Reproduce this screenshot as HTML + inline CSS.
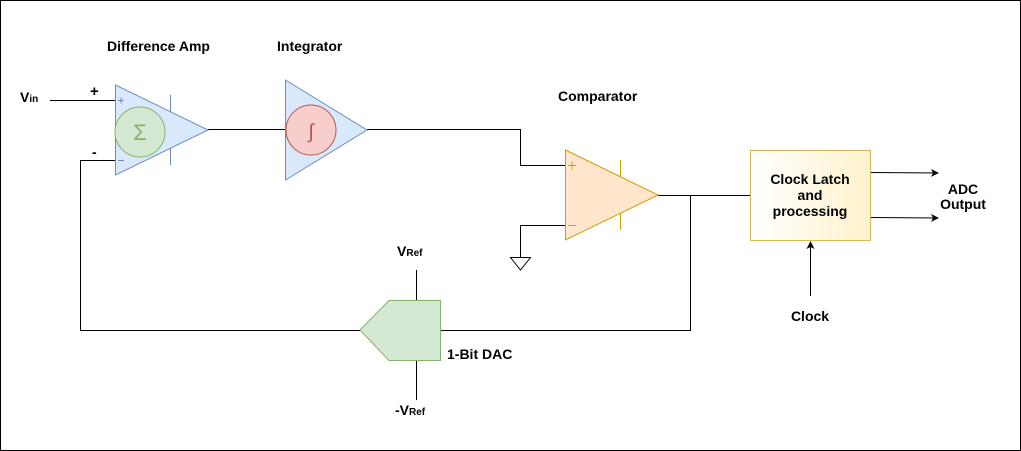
<!DOCTYPE html>
<html><head><meta charset="utf-8"><style>
html,body{margin:0;padding:0;background:#fff}
svg{display:block}
text{font-family:"Liberation Sans",sans-serif;font-weight:bold;font-size:14px;fill:#000}
</style></head><body>
<svg width="1021" height="451" viewBox="0 0 1021 451" xmlns="http://www.w3.org/2000/svg">
<defs>
<linearGradient id="g" x1="0" x2="1" y1="0" y2="0"><stop offset="0" stop-color="#ffffff"/><stop offset="1" stop-color="#fff2cc"/></linearGradient>
<marker id="ar" markerWidth="8" markerHeight="8" refX="7" refY="4" orient="auto" markerUnits="userSpaceOnUse"><path d="M0,0 L8,4 L0,8 L2,4 Z" fill="#000"/></marker>
</defs>
<rect x="0.5" y="0.5" width="1020" height="450" fill="#fff" stroke="#000"/>
<g fill="none" stroke="#000" stroke-width="1">
<path d="M50,100.5 H115"/>
<path d="M115,160.5 H80.5 V330.5 H360"/>
<path d="M441,330.5 H690.5 V195.5"/>
<path d="M208,129.5 H285"/>
<path d="M367,129.5 H520.5 V165.5 H565"/>
<path d="M565,225.5 H520.5 V257"/>
<path d="M658,195.5 H750"/>
<path d="M416.5,270 V300"/>
<path d="M416.5,360 V400"/>
<path d="M870,172.5 L938,173" marker-end="url(#ar)"/>
<path d="M870,217.5 L938,218" marker-end="url(#ar)"/>
<path d="M810.5,296 V242" marker-end="url(#ar)"/>
</g>
<path d="M510.5,257.5 H530.5 L520.5,270 Z" fill="#fff" stroke="#000"/>
<path d="M170.5,95 V112 M170.5,148 V165" stroke="#6c8ebf"/>
<path d="M115.5,85 L208,130 L115.5,175 Z" fill="#dae8fc" stroke="#6c8ebf"/>
<path d="M118,100.5 H124 M121,97.5 V103.5 M118,160.5 H124" stroke="#6c8ebf"/>
<circle cx="140" cy="132" r="25" fill="#d5e8d4" stroke="#82b366"/>
<text x="140" y="140" text-anchor="middle" style="font-weight:normal;font-size:22px;fill:#82b366">Σ</text>
<path d="M285.5,80 L367,130 L285.5,180 Z" fill="#dae8fc" stroke="#6c8ebf"/>
<circle cx="311" cy="130" r="25" fill="#f8cecc" stroke="#b85450"/>
<text x="311" y="138" text-anchor="middle" style="font-weight:normal;font-size:20px;fill:#b85450">∫</text>
<path d="M620.5,160 V176 M620.5,214 V230" stroke="#d79b00"/>
<path d="M565.5,150 L658,195 L565.5,240 Z" fill="#ffe6cc" stroke="#d79b00"/>
<path d="M568,165.5 H576 M572,161.5 V169.5 M568,225.5 H576" stroke="#d79b00"/>
<path d="M360,330 L389,300.5 H440.5 V360.5 H389 Z" fill="#d5e8d4" stroke="#82b366"/>
<rect x="750.5" y="150.5" width="120" height="90" fill="url(#g)" stroke="#d6b656"/>
<text x="810" y="184" text-anchor="middle">Clock Latch</text>
<text x="810" y="200" text-anchor="middle">and</text>
<text x="810" y="216" text-anchor="middle">processing</text>
<text x="963" y="194" text-anchor="middle">ADC</text>
<text x="963" y="209" text-anchor="middle">Output</text>
<text x="810" y="321" text-anchor="middle">Clock</text>
<text x="107" y="51">Difference Amp</text>
<text x="277" y="51">Integrator</text>
<text x="558" y="101">Comparator</text>
<text x="447" y="359">1-Bit DAC</text>
<text x="90" y="96" style="font-size:15px">+</text>
<text x="92" y="157" style="font-size:14px">-</text>
<text x="20" y="102" style="font-size:14px">V<tspan style="font-size:10px">in</tspan></text>
<text x="397" y="256" style="font-size:14px">V<tspan style="font-size:10px">Ref</tspan></text>
<text x="395" y="415" style="font-size:14px">-V<tspan style="font-size:10px">Ref</tspan></text>
</svg>
</body></html>
